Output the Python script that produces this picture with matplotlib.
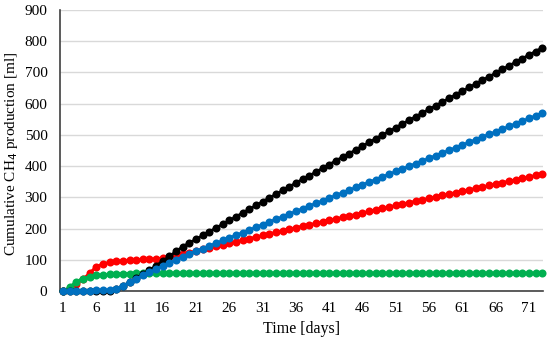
import numpy as np
import matplotlib
matplotlib.use("Agg")
import matplotlib.pyplot as plt

plt.rcParams['font.family'] = ['Liberation Serif', 'DejaVu Serif']

days = list(range(1, 74))

black = [0, 0, 0, 0, 0, 0, 0, 1, 5, 15, 28, 41, 54, 67, 81, 96, 111, 127, 142, 154,
         166, 178, 190, 202, 214, 226, 238, 250, 262, 274, 286, 298, 310, 322, 334, 346,
         358, 369, 381, 393, 405, 417, 429, 440, 452, 464, 476, 488, 500, 511, 523, 535,
         547, 558, 570, 582, 593, 605, 617, 628, 640, 652, 663, 675, 686, 698, 710, 721,
         733, 744, 756, 767, 779]

blue = [0, 0, 1, 1, 1, 2, 2, 3, 7, 17, 28, 39, 50, 60, 70, 80, 90, 100, 110, 119,
        128, 136, 145, 153, 162, 170, 179, 187, 196, 204, 213, 221, 230, 238, 247, 255,
        264, 272, 281, 289, 298, 306, 315, 323, 332, 340, 349, 357, 366, 374, 383, 391,
        400, 408, 417, 425, 434, 442, 451, 459, 468, 476, 485, 493, 502, 510, 519, 527,
        536, 544, 553, 561, 569]

red = [0, 8, 22, 38, 57, 78, 87, 92, 95, 97, 99, 100, 101, 102, 103, 105, 108, 113, 118, 123,
       128, 133, 138, 143, 148, 153, 158, 163, 168, 173, 178, 183, 188, 193, 198, 203,
       208, 212, 217, 222, 227, 231, 236, 241, 245, 250, 255, 260, 265, 269, 274, 279,
       283, 288, 292, 297, 301, 306, 311, 315, 320, 324, 329, 333, 338, 343, 347, 352,
       356, 361, 365, 370, 375]

green = [0, 12, 30, 40, 46, 50, 52, 54, 55, 56, 56, 57, 57, 57, 57, 57, 57, 57, 57, 57,
         57, 57, 57, 57, 57, 57, 57, 57, 57, 57, 57, 57, 57, 57, 57, 57,
         57, 57, 57, 57, 57, 57, 57, 57, 57, 57, 57, 57, 57, 57, 57, 57,
         57, 57, 57, 57, 57, 57, 57, 57, 57, 57, 57, 57, 57, 57, 57, 57,
         57, 57, 57, 57, 57]

x_ticks = list(range(1, 72, 5))
y_ticks = list(range(0, 1000, 100))

fig = plt.figure(figsize=(5.5, 3.41), dpi=100)
ax = fig.add_axes([0.109, 0.1466, 0.878, 0.824])

series = [(red, '#FF0000', 2), (green, '#00B050', 3), (black, '#000000', 4), (blue, '#0070C0', 5)]
for vals, col, z in series:
    ax.plot(days, vals, color=col, linewidth=2, marker='o', markersize=5.8,
            markeredgewidth=0, zorder=z, clip_on=False)

ax.set_xlim(0.55, 73.1)
ax.set_ylim(0, 900)
ax.set_xticks(x_ticks)
ax.set_yticks(y_ticks)
ax.tick_params(axis='both', length=0, labelsize=11)
ax.tick_params(axis='x', pad=8)
ax.tick_params(axis='y', pad=9)
ax.grid(axis='y', color='#d9d9d9', linewidth=1)
ax.set_axisbelow(True)
for s in ['top', 'right']:
    ax.spines[s].set_visible(False)
ax.spines['left'].set_color('#404040')
ax.spines['bottom'].set_color('#404040')
ax.spines['left'].set_linewidth(1.2)
ax.spines['bottom'].set_linewidth(1.2)

ax.set_xlabel("Time [days]", fontsize=11.5, labelpad=4)
# y label placed by hand so it sits where the original one does
fig.text(12 / 550, 1 - 154 / 341, "Cumulative CH$_4$ production [ml]",
         rotation=90, ha='center', va='center', fontsize=11)

plt.savefig("out.png", dpi=100)
plt.close()
